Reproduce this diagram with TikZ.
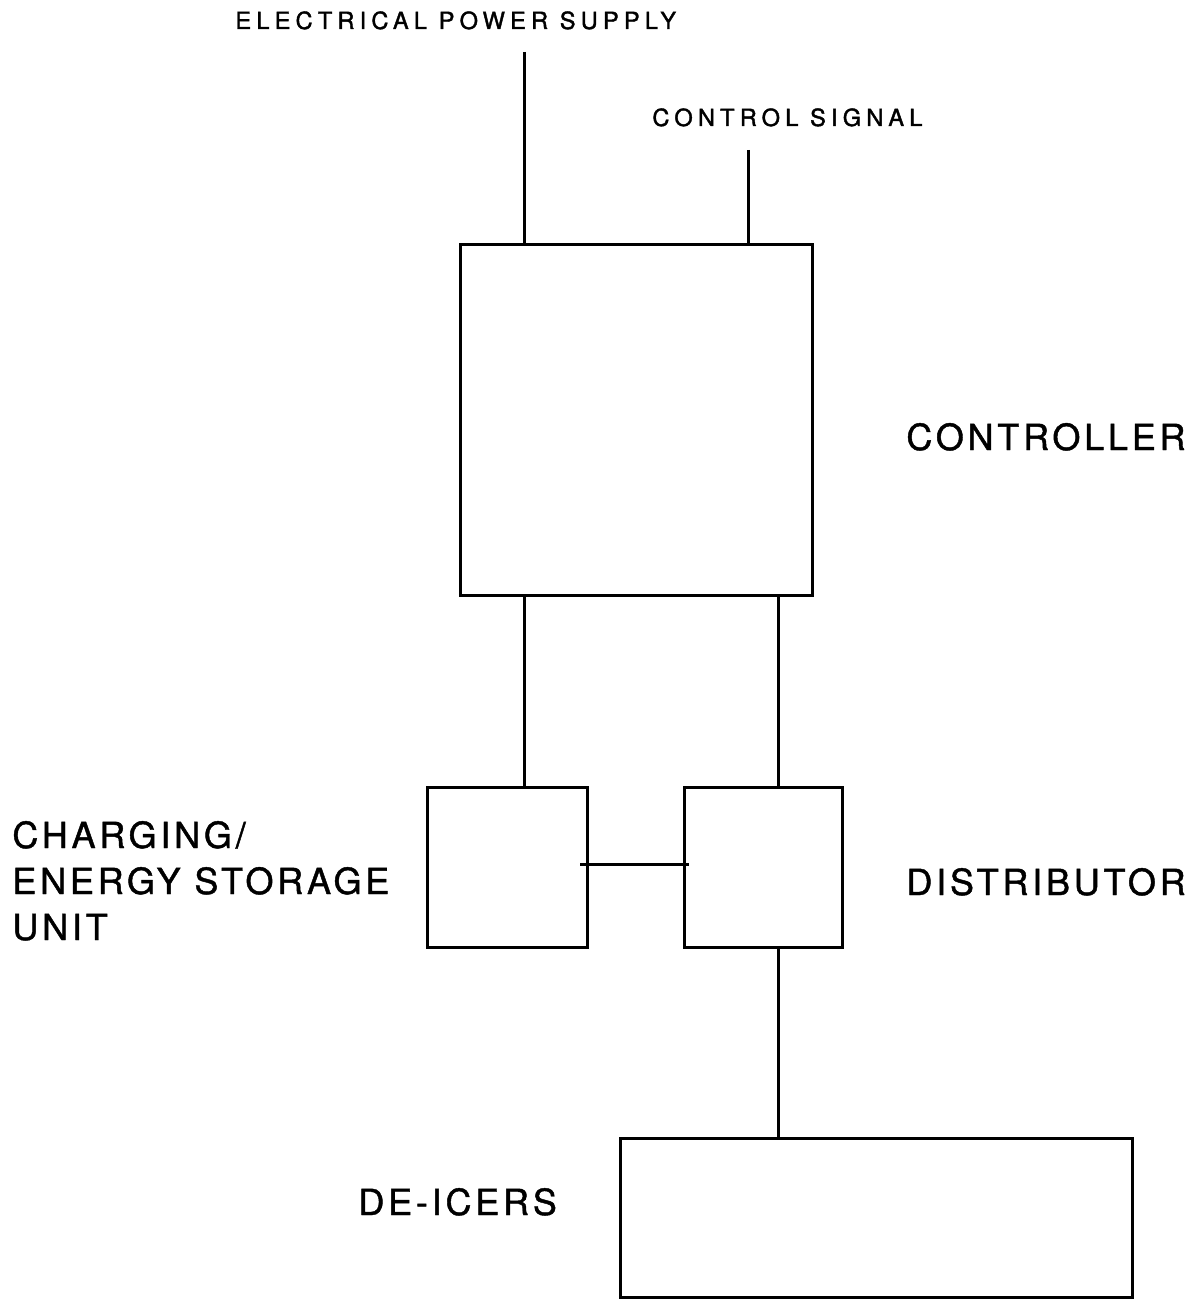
\documentclass[tikz,border=0pt]{standalone}
\usepackage{fontspec}
\setmainfont{TeX Gyre Heros}
\newfontfamily\smallfnt[LetterSpace=22,FakeBold=1.6]{TeX Gyre Heros}
\newfontfamily\bigfnt[LetterSpace=10.5,FakeBold=1.2]{TeX Gyre Heros}
\begin{document}
\begin{tikzpicture}[x=0.5pt,y=-0.5pt,
  blk/.style={draw,line width=1.5pt,inner sep=0pt,outer sep=0pt},
  wire/.style={line width=1.5pt},
  small/.style={font=\smallfnt\fontsize{11.8}{14}\selectfont,anchor=base west,inner sep=0pt},
  big/.style={font=\bigfnt\fontsize{18}{23}\selectfont,anchor=base west,inner sep=0pt,align=left}]
\useasboundingbox (0,0) rectangle (1201,1299);
\node[blk,minimum width=176pt,minimum height=175pt] (ctrl) at (636,420) {};
\node[blk,minimum width=80pt,minimum height=80pt] (chg) at (507,867) {};
\node[blk,minimum width=79pt,minimum height=80pt] (dist) at (763,867) {};
\node[blk,minimum width=256pt,minimum height=79.5pt] (deice) at (876,1217.5) {};
\coordinate (ps) at (524,52);
\coordinate (cs) at (748,150);
\coordinate (dx) at (778,0);
\draw[wire] (ps) -- (ps |- ctrl.north);
\draw[wire] (cs) -- (cs |- ctrl.north);
\draw[wire] (ctrl.south -| ps) -- (chg.north -| ps);
\draw[wire] (ctrl.south -| dx) -- (dist.north -| dx);
\draw[wire] ([xshift=-3.5pt]chg.east |- 0,864) -- ([xshift=2.5pt]dist.west |- 0,864);
\draw[wire] (dist.south -| dx) -- (deice.north -| dx);
\node[small] (t1) at (235,29) {ELECTRICAL POWER SUPPLY};
\node[small] (t2) at (652,126) {CONTROL SIGNAL};
\node[big] (t3) at (906,450) {CONTROLLER};
\node[big] (t4) at (906,895) {DISTRIBUTOR};
\node[big] (t5) at (358,1215) {DE-ICERS};
\node[big] (t6a) at (12,848) {CHARGING/};
\node[big] (t6b) at (12,894) {ENERGY STORAGE};
\node[big] (t6c) at (12,940) {UNIT};
\end{tikzpicture}
\end{document}
